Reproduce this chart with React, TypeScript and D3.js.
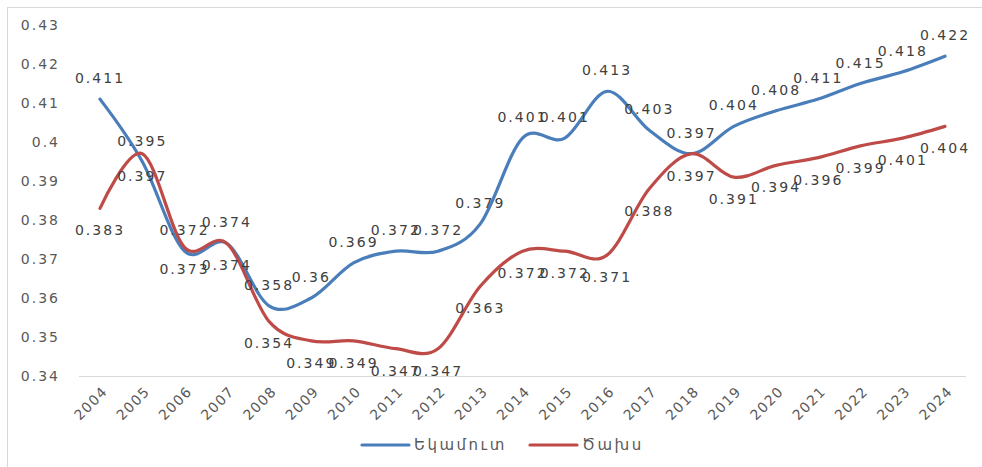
import { useEffect, useRef } from "react";
import * as d3 from "d3";

const years = [
  "2004", "2005", "2006", "2007", "2008", "2009", "2010", "2011", "2012", "2013", "2014",
  "2015", "2016", "2017", "2018", "2019", "2020", "2021", "2022", "2023", "2024",
];
const income = [
  0.411, 0.395, 0.372, 0.374, 0.358, 0.36, 0.369, 0.372, 0.372, 0.379, 0.401,
  0.401, 0.413, 0.403, 0.397, 0.404, 0.408, 0.411, 0.415, 0.418, 0.422,
];
const expense = [
  0.383, 0.397, 0.373, 0.374, 0.354, 0.349, 0.349, 0.347, 0.347, 0.363, 0.372,
  0.372, 0.371, 0.388, 0.397, 0.391, 0.394, 0.396, 0.399, 0.401, 0.404,
];
const yTicks = [0.34, 0.35, 0.36, 0.37, 0.38, 0.39, 0.4, 0.41, 0.42, 0.43];
const seriesNames = ["Եկամուտ", "Ծախս"];

const W = 982;
const H = 467;
const BLUE = "#4a7ebb";
const RED = "#be4b48";
const TEXT = "#595959";
const FONT = "'DejaVu Sans', Verdana, sans-serif";

export default function App() {
  const ref = useRef<SVGSVGElement | null>(null);

  useEffect(() => {
    if (!ref.current) return;
    const svg = d3.select(ref.current);
    svg.selectAll("*").remove();

    // outer frame
    svg
      .append("rect")
      .attr("x", 7.5)
      .attr("y", 7.5)
      .attr("width", W)
      .attr("height", H)
      .attr("fill", "#fff")
      .attr("stroke", "#d9d9d9");

    const x = d3.scalePoint<string>().domain(years).range([100, 945]);
    const y = d3.scaleLinear().domain([0.34, 0.43]).range([376, 25]);

    // bottom axis line
    svg
      .append("line")
      .attr("x1", 79)
      .attr("x2", 966)
      .attr("y1", y(0.34) + 0.5)
      .attr("y2", y(0.34) + 0.5)
      .attr("stroke", "#d9d9d9");

    // y tick labels
    svg
      .append("g")
      .selectAll("text")
      .data(yTicks)
      .join("text")
      .attr("x", 60)
      .attr("y", (d) => y(d))
      .attr("dy", "0.35em")
      .attr("text-anchor", "end")
      .attr("font-family", FONT)
      .attr("font-size", 14)
      .attr("letter-spacing", 2)
      .attr("fill", TEXT)
      .text((d) => d3.format("~g")(d));

    // x tick labels (rotated)
    svg
      .append("g")
      .selectAll("text")
      .data(years)
      .join("text")
      .attr("transform", (d) => `translate(${x(d)! + 5},${389}) rotate(-45)`)
      .attr("text-anchor", "end")
      .attr("dy", "0.35em")
      .attr("font-family", FONT)
      .attr("font-size", 14)
      .attr("letter-spacing", 1.2)
      .attr("fill", TEXT)
      .text((d) => d);

    const line = d3
      .line<number>()
      .x((_, i) => x(years[i])!)
      .y((d) => y(d))
      .curve(d3.curveCardinal.tension(0));

    const series = [
      { values: income, color: BLUE, dy: -16 },
      { values: expense, color: RED, dy: 27 },
    ];

    series.forEach((s) => {
      svg
        .append("path")
        .attr("d", line(s.values))
        .attr("fill", "none")
        .attr("stroke", s.color)
        .attr("stroke-width", 3.2)
        .attr("stroke-linecap", "round");
    });

    series.forEach((s) => {
      svg
        .append("g")
        .selectAll("text")
        .data(s.values)
        .join("text")
        .attr("x", (_, i) => x(years[i])!)
        .attr("y", (d) => y(d) + s.dy)
        .attr("text-anchor", "middle")
        .attr("font-family", FONT)
        .attr("font-size", 14)
        .attr("letter-spacing", 2)
        .attr("fill", "#404040")
        .text((d) => d3.format("~g")(d));
    });

    // legend
    const legend = svg.append("g").attr("transform", "translate(0,445)");
    const legendX = [362, 530];
    [BLUE, RED].forEach((c, i) => {
      legend
        .append("line")
        .attr("x1", legendX[i])
        .attr("x2", legendX[i] + 47)
        .attr("y1", 0)
        .attr("y2", 0)
        .attr("stroke", c)
        .attr("stroke-width", 3.2)
        .attr("stroke-linecap", "round");
      legend
        .append("text")
        .attr("x", legendX[i] + 52)
        .attr("y", 0)
        .attr("dy", "0.35em")
        .attr("font-family", FONT)
        .attr("font-size", 15)
        .attr("letter-spacing", 2.5)
        .attr("fill", TEXT)
        .text(seriesNames[i]);
    });
  }, []);

  return (
    <svg
      ref={ref}
      width={W}
      height={H}
      style={{ position: "absolute", left: 0, top: 0, background: "#fff" }}
    />
  );
}
